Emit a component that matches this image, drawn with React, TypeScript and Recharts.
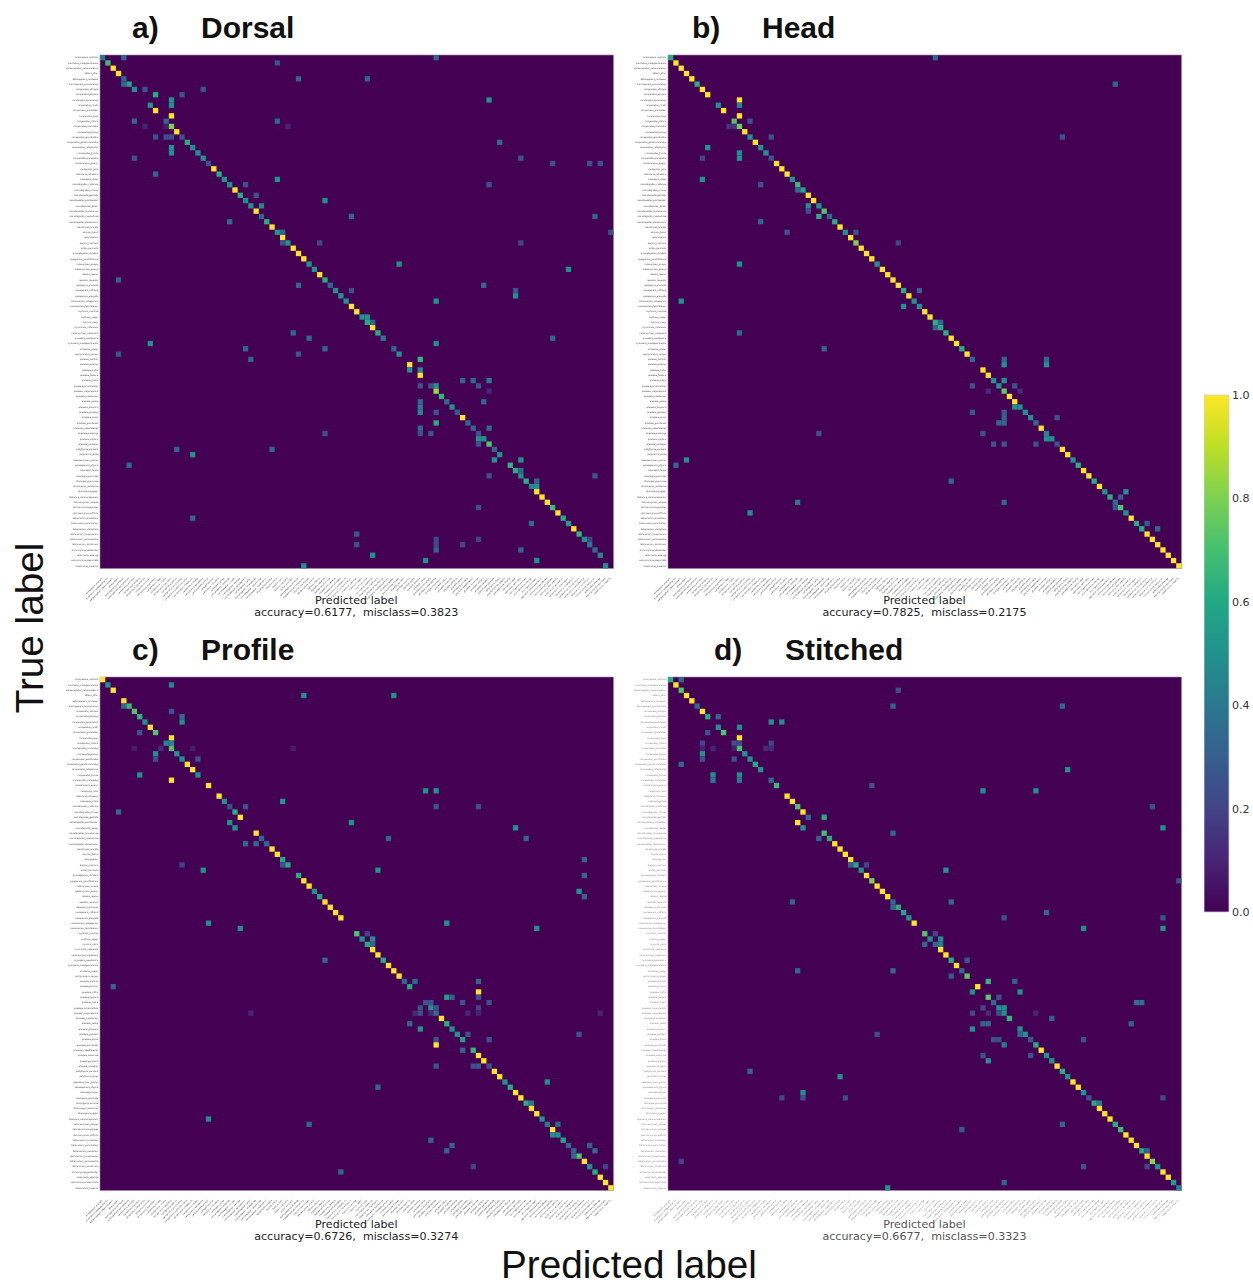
import { ScatterChart, Scatter, XAxis, YAxis, ReferenceArea, BarChart, Bar } from "recharts";

type Triple = [number, number, number];

const SPECIES = [
    "amblyopone_australis", "anochetus_madagascarensis", "aphaenogaster_swammerdami", "azteca_alfari",
    "bothroponera_cambouei", "brachyponera_sennaarensis", "camponotus_atriceps", "camponotus_aurosus",
    "camponotus_bonariensis", "camponotus_christi", "camponotus_grandidieri", "camponotus_hova",
    "camponotus_irritans", "camponotus_maculatus", "camponotus_planus", "camponotus_punctulatus",
    "camponotus_quadrimaculatus", "camponotus_rufoglaucus", "camponotus_thraso", "camponotus_variegatus",
    "cardiocondyla_emeryi", "cerapachys_biroi", "cataulacus_intrudens", "colobopsis_vitrea",
    "crematogaster_castanea", "crematogaster_crinosa", "crematogaster_dentata", "crematogaster_gerstaeckeri",
    "crematogaster_kelleri", "crematogaster_ranavalonae", "crematogaster_rasoherinae", "crematogaster_stadelmanni",
    "discothyrea_oculata", "dorylus_fulvus", "dorylus_kohli", "dorylus_nigricans",
    "eciton_burchellii", "gnamptogenys_striatula", "hypoponera_punctatissima", "iridomyrmex_anceps",
    "labidomyrmex_emeryi", "labidus_coecus", "lepisiota_capensis", "leptogenys_diminuta",
    "mesoponera_caffraria", "mesoponera_elongata", "monomorium_subopacum", "monomorium_termitobium",
    "mystrium_camillae", "mystrium_rogeri", "myrmica_rubra", "myrmicaria_natalensis",
    "neivamyrmex_nigrescens", "nylanderia_bourbonica", "nylanderia_madagascarensis", "ochetellus_glaber",
    "pachycondyla_harpax", "pheidole_aurivillii", "pheidole_bicornis", "pheidole_caffra",
    "pheidole_fervens", "pheidole_indica", "pheidole_lucioccipitalis", "pheidole_megacephala",
    "pheidole_mooreorum", "pheidole_nodus", "pheidole_oceanica", "pheidole_pallidula",
    "pheidole_parva", "pheidole_punctulata", "pheidole_radoszkowskii", "pheidole_susannae",
    "pheidole_vigilans", "pheidole_variabilis", "platythyrea_parallela", "polyrhachis_dives",
    "pseudomyrmex_gracilis", "pseudoponera_stigma", "solenopsis_fugax", "solenopsis_geminata",
    "strumigenys_emmae", "strumigenys_louisianae", "strumigenys_rogeri", "tapinoma_melanocephalum",
    "technomyrmex_albipes", "technomyrmex_pallipes", "technomyrmex_difficilis", "tetramorium_aculeatum",
    "tetramorium_bicarinatum", "tetramorium_caespitum", "tetramorium_lanuginosum", "tetramorium_sericeiventre",
    "tetramorium_simillimum", "trichomyrmex_destructor", "vollenhovia_oblonga", "wasmannia_auropunctata",
    "zasphinctus_imbecilis",
];

const TICKS = SPECIES.map((_, i) => i);
const COLORBAR_TICKS = [0, 0.2, 0.4, 0.6, 0.8, 1];

const VIRIDIS = [
    "#440154", "#482475", "#414487", "#355f8d", "#2a788e", "#21918c",
    "#22a884", "#44bf70", "#7ad151", "#bddf26", "#fde725",
];

// [row, col, value]
const DORSAL: Triple[] = [
    [0,0,.4],[0,4,.33],[0,63,.33],[1,1,.68],[1,33,.25],[2,2,1],[3,3,1],[4,4,.33],[4,37,.33],[4,50,.33],
    [5,4,.33],[5,5,.6],[6,6,.5],[6,8,.25],[6,19,.25],[7,10,.62],[7,15,.25],[8,13,.5],[8,73,.5],[9,9,.5],[9,13,.5],
    [10,10,1],[11,13,1],[12,6,.33],[12,12,.33],[12,33,.33],[13,8,.1],[13,12,.08],[13,13,.8],[13,35,.1],[14,14,1],
    [15,10,.25],[15,12,.25],[15,13,.25],[15,15,.25],[16,16,.62],[16,75,.33],[17,13,.5],[17,17,.5],[18,13,.5],[18,18,.5],
    [19,6,.25],[19,19,.5],[19,79,.25],[20,20,.25],[20,85,.25],[20,92,.25],[20,94,.25],[21,21,1],[22,10,.33],[22,22,.62],
    [23,23,.5],[23,33,.5],[24,24,.5],[24,27,.25],[24,73,.25],[25,25,1],[26,26,.62],[26,29,.25],[27,27,.5],[27,42,.5],
    [28,28,.5],[28,30,.45],[29,29,1],[30,30,.33],[30,47,.33],[30,93,.33],[31,24,.33],[31,31,.62],[32,32,1],
    [33,33,.5],[33,34,.33],[33,96,.25],[34,34,1],[35,34,.25],[35,35,.5],[35,41,.22],[35,79,.22],[36,36,1],[37,37,1],[38,38,1],
    [39,39,.5],[39,56,.5],[40,40,.5],[40,88,.5],[41,41,1],[42,3,.33],[42,42,.62],[43,37,.33],[43,43,.33],[43,72,.33],
    [44,44,.5],[44,47,.25],[44,78,.25],[45,45,.5],[45,78,.5],[46,46,.5],[46,63,.5],[47,47,1],[48,48,1],[49,49,.5],[49,50,.5],
    [50,50,.62],[50,51,.33],[51,51,1],[52,36,.33],[52,52,.62],[53,39,.33],[53,53,.4],[53,85,.33],[54,9,.5],[54,63,.5],
    [55,27,.33],[55,42,.33],[55,55,.33],[56,3,.28],[56,37,.28],[56,56,.5],[57,28,.33],[57,60,.65],[58,58,1],[59,58,.5],[59,60,.45],
    [60,60,1],[61,68,.33],[61,70,.33],[61,73,.4],[62,60,.25],[62,62,.25],[62,63,.5],[62,71,.25],[63,63,.85],[63,73,.1],[64,64,.65],
    [65,60,.33],[65,65,.33],[65,72,.33],[66,60,.4],[66,66,.5],[67,60,.45],[67,63,.25],[67,67,.28],[68,68,1],[69,63,.62],[69,69,.33],
    [70,60,.33],[70,70,.33],[70,73,.33],[71,42,.25],[71,60,.25],[71,62,.25],[71,71,.25],[72,71,.5],[72,72,.5],[73,71,.25],[73,73,.72],
    [74,14,.33],[74,32,.33],[74,74,.33],[75,17,.5],[75,75,.5],[76,74,.5],[76,79,.5],[77,5,.33],[77,77,.65],[78,78,.62],[78,79,.33],
    [79,73,.25],[79,79,.5],[79,93,.25],[80,80,.62],[80,82,.33],[81,81,.45],[81,82,.5],[82,82,1],[83,83,1],[84,84,1],
    [85,71,.25],[85,85,.68],[86,86,1],[87,17,.33],[87,87,.62],[88,81,.33],[88,88,.55],[89,89,1],[90,48,.28],[90,90,.65],
    [91,63,.2],[91,71,.2],[91,91,.5],[91,92,.2],[92,48,.25],[92,63,.22],[92,68,.22],[92,92,.4],[93,63,.33],[93,79,.33],[93,93,.33],
    [94,51,.5],[94,94,.45],[95,61,.5],[95,82,.5],[96,38,.5],[96,95,.5],
];

const HEAD: Triple[] = [
    [0,0,.62],[0,50,.33],[1,1,1],[2,2,1],[3,3,1],[4,4,1],[5,5,.62],[5,84,.33],[6,6,1],[7,7,1],[8,13,1],[9,9,.5],[9,13,.45],
    [10,10,1],[11,13,1],[12,12,.72],[12,15,.25],[13,11,.15],[13,12,.15],[13,13,.78],[14,14,1],[15,15,.5],[15,19,.25],[15,74,.25],
    [16,16,1],[17,7,.5],[17,17,.5],[18,13,.5],[18,18,.5],[19,6,.22],[19,13,.5],[19,19,.25],[20,20,1],[21,21,1],[22,22,1],
    [23,6,.5],[23,23,.5],[24,17,.25],[24,24,.68],[25,24,.33],[25,25,.6],[26,26,1],[27,27,1],[28,26,.5],[28,28,.5],[29,26,.25],[29,29,.72],
    [30,28,.62],[30,30,.33],[31,17,.33],[31,31,.62],[32,32,1],[33,22,.25],[33,33,.5],[33,35,.25],[34,34,1],[35,35,.8],[35,43,.2],
    [36,36,1],[37,37,1],[38,38,1],[39,13,.5],[39,39,.5],[40,40,1],[41,41,1],[42,42,1],[43,43,1],[44,44,.62],[44,47,.3],[45,45,1],
    [46,2,.5],[46,46,.5],[47,44,.5],[47,47,.5],[48,48,1],[49,49,1],[50,50,.62],[50,51,.33],[51,50,.33],[51,51,.62],[52,13,.33],[52,52,.62],
    [53,53,1],[54,54,1],[55,29,.33],[55,55,.62],[56,56,1],[57,57,.33],[57,63,.33],[57,71,.33],[58,63,.5],[58,71,.5],[59,59,1],[60,60,1],
    [61,61,.5],[61,63,.5],[62,57,.25],[62,62,.5],[62,65,.25],[63,60,.12],[63,63,.75],[63,66,.12],[64,64,1],[65,65,1],[66,65,.5],[66,66,.5],
    [67,57,.28],[67,63,.28],[67,67,.5],[68,63,.3],[68,68,.5],[68,73,.25],[69,62,.33],[69,63,.33],[69,69,.33],[70,70,1],
    [71,28,.25],[71,59,.25],[71,71,.45],[72,71,.5],[72,72,.5],[73,61,.25],[73,63,.25],[73,69,.25],[73,73,.25],[74,74,1],[75,75,1],
    [76,3,.5],[76,76,.5],[77,1,.33],[77,77,.62],[78,78,1],[79,79,1],[80,53,.33],[80,80,.62],[81,81,1],[82,82,.5],[82,86,.5],
    [83,83,.62],[83,85,.3],[84,24,.4],[84,63,.33],[84,84,.33],[85,84,.25],[85,85,.72],[86,15,.5],[86,86,.5],[87,87,1],
    [88,88,.62],[88,90,.28],[89,89,.62],[89,92,.33],[90,90,1],[91,91,1],[92,92,1],[93,93,1],[94,94,1],[95,95,1],[96,96,1],
];

const PROFILE: Triple[] = [
    [0,0,1],[1,1,.5],[1,13,.45],[2,2,1],[3,38,.5],[3,55,.5],[4,4,1],[5,4,.33],[5,5,.67],[6,6,.72],[6,13,.25],[7,7,.65],[7,15,.33],
    [8,8,.5],[8,15,.5],[9,9,1],[10,7,.25],[10,10,.72],[11,13,1],[12,12,.45],[12,13,.45],[13,6,.08],[13,11,.12],[13,13,.72],[13,17,.08],[13,36,.08],
    [14,10,.5],[14,14,.5],[15,10,.25],[15,15,.5],[15,18,.25],[16,16,1],[17,17,1],[18,7,.5],[18,18,.5],[19,13,1],[20,20,1],
    [21,61,.5],[21,63,.5],[22,22,1],[23,23,.5],[23,34,.5],[24,24,.25],[24,27,.25],[24,63,.25],[24,71,.25],[25,3,.33],[25,25,.62],[26,26,1],
    [27,24,.5],[27,47,.5],[28,25,.5],[28,78,.5],[29,29,1],[30,30,.33],[30,54,.33],[30,80,.33],[31,27,.33],[31,29,.33],[31,31,.33],
    [32,32,1],[33,33,1],[34,34,.6],[34,91,.33],[35,15,.2],[35,34,.25],[35,35,.6],[36,19,.5],[36,52,.5],[37,37,.62],[37,91,.33],
    [38,38,1],[39,39,1],[40,40,.5],[40,90,.5],[41,41,.6],[41,91,.33],[42,42,1],[43,43,1],[44,44,1],[45,45,1],[46,20,.5],[46,65,.5],
    [47,26,.5],[47,82,.5],[48,48,.72],[48,50,.2],[49,49,.5],[49,51,.5],[50,50,.6],[50,51,.33],[51,51,1],[52,52,1],[53,42,.33],[53,53,.62],
    [54,54,1],[55,55,1],[56,56,1],[57,57,.33],[57,59,.33],[57,71,.33],[58,2,.33],[58,58,.6],[59,71,1],[60,65,.55],[60,66,.3],[60,71,.25],
    [61,61,.25],[61,62,.25],[61,68,.25],[61,73,.25],[62,60,.25],[62,62,.5],[62,63,.25],[62,71,.2],
    [63,28,.1],[63,59,.12],[63,60,.25],[63,62,.12],[63,63,.35],[63,69,.1],[63,71,.1],[63,94,.1],[64,64,1],[65,58,.33],[65,65,.62],
    [66,60,.5],[66,66,.5],[67,67,.5],[67,69,.25],[67,90,.25],[68,63,.25],[68,68,.55],[68,73,.25],[69,63,1],[70,68,.33],[70,70,.65],
    [71,71,1],[72,72,1],[73,63,.25],[73,70,.25],[73,71,.25],[73,73,.25],[74,74,1],[75,75,1],[76,76,.5],[76,84,.5],[77,52,.33],[77,77,.62],
    [78,78,1],[79,79,1],[80,80,.62],[80,81,.4],[81,81,1],[82,82,1],[83,20,.5],[83,83,.5],[84,39,.33],[84,84,.4],[84,86,.33],[85,85,1],
    [86,85,.5],[86,86,.5],[87,62,.33],[87,87,.6],[88,66,.3],[88,88,.33],[88,92,.3],[89,65,.33],[89,89,.33],[89,93,.33],[90,89,.33],[90,90,.72],
    [91,91,1],[92,70,.2],[92,92,.5],[92,95,.2],[93,45,.33],[93,93,.62],[94,94,1],[95,95,1],[96,96,1],
];

const STITCHED: Triple[] = [
    [0,0,.62],[0,2,.33],[1,1,1],[2,2,.72],[2,43,.25],[3,3,1],[4,4,1],[5,5,.33],[5,42,.33],[5,74,.33],[6,6,1],[7,7,.62],[7,9,.3],
    [8,19,.5],[8,21,.5],[9,9,.5],[9,13,.5],[10,7,.25],[10,10,.72],[11,13,1],[12,6,.22],[12,12,.25],[12,13,.22],[12,19,.22],
    [13,6,.08],[13,8,.1],[13,12,.08],[13,13,.7],[13,18,.12],[13,19,.12],[14,6,.5],[14,14,.5],[15,6,.25],[15,12,.25],[15,15,.5],
    [16,2,.33],[16,16,.6],[17,17,.5],[17,75,.5],[18,8,.5],[18,13,.5],[19,8,.4],[19,13,.4],[19,19,.33],[20,20,.68],[20,38,.25],
    [21,59,.5],[21,69,.5],[22,22,1],[23,23,1],[24,24,.72],[24,91,.25],[25,25,1],[26,26,.33],[26,29,.62],[27,24,1],[28,25,.5],[28,93,.5],
    [29,29,.7],[29,42,.33],[30,28,.33],[30,30,.62],[31,31,1],[32,32,1],[33,33,1],[34,34,1],[35,34,.3],[35,35,.6],[35,37,.2],
    [36,36,.5],[36,52,.5],[37,37,1],[38,38,.8],[38,96,.25],[39,39,1],[40,40,1],[41,41,1],[42,23,.33],[42,42,.33],[42,53,.33],
    [43,42,.33],[43,43,.62],[44,44,.6],[44,71,.33],[45,45,.5],[45,63,.25],[45,93,.25],[46,46,1],[47,78,.5],[47,93,.5],
    [48,48,.72],[48,50,.2],[49,49,.5],[49,51,.5],[50,48,.33],[50,50,.33],[50,51,.42],[51,51,1],[52,52,1],[53,53,.62],[53,56,.28],[54,54,1],
    [55,24,.33],[55,42,.33],[55,55,.33],[56,53,.28],[56,56,.75],[57,60,.65],[57,65,.3],[58,58,1],[59,57,.5],[59,66,.5],[60,60,.75],[60,62,.25],
    [61,61,.33],[61,88,.35],[61,89,.35],[62,59,.2],[62,62,.5],[62,63,.5],[63,57,.22],[63,60,.12],[63,62,.25],[63,63,.5],[63,69,.1],
    [64,64,.65],[64,72,.3],[65,59,.33],[65,60,.33],[65,87,.3],[66,57,.5],[66,66,.5],[67,39,.25],[67,66,.33],[67,67,.5],
    [68,61,.25],[68,62,.25],[68,68,.28],[68,78,.25],[69,63,.4],[69,69,.62],[70,70,1],[71,59,.25],[71,68,.25],[71,71,.5],[72,60,.5],[72,72,.5],
    [73,73,1],[74,15,.33],[74,74,.62],[75,32,.5],[75,75,.5],[76,76,1],[77,77,1],[78,25,.5],[78,78,.5],[79,21,.22],[79,25,.25],[79,33,.22],[79,79,.25],[79,93,.22],
    [80,80,.62],[80,81,.4],[81,81,1],[82,82,1],[83,83,1],[84,74,.33],[84,84,.62],[85,55,.28],[85,85,.68],[86,86,1],[87,87,1],[88,88,1],
    [89,89,.6],[89,90,.33],[90,90,1],[91,2,.2],[91,91,.82],[92,78,.25],[92,90,.22],[92,92,.5],[93,93,1],[94,94,1],[95,63,.33],[95,95,.55],[96,41,.5],[96,96,.45],
];

const PLOT = 513.5;
const CELL = PLOT / SPECIES.length;
const GUTTER = 50;
const XAXIS_HEIGHT = 50;

function hexToRgb(hex: string) {
    return [1, 3, 5].map((i) => parseInt(hex.slice(i, i + 2), 16));
}

function viridis(v: number) {
    const pos = Math.min(Math.max(v, 0), 1) * (VIRIDIS.length - 1);
    const lo = Math.floor(pos);
    const hi = Math.min(lo + 1, VIRIDIS.length - 1);
    const a = hexToRgb(VIRIDIS[lo]);
    const b = hexToRgb(VIRIDIS[hi]);
    const mix = a.map((c, i) => Math.round(c + (b[i] - c) * (pos - lo)));
    return `rgb(${mix.join(",")})`;
}

function CellShape(props: any) {
    const { cx, cy, payload } = props;
    return <rect x={cx - CELL / 2} y={cy - CELL / 2} width={CELL} height={CELL} fill={viridis(payload.value)} />;
}

function XTick(props: any) {
    const { x, y, payload, fill } = props;
    return (
        <text
            x={x}
            y={y + 2}
            fontSize={2.1}
            fontFamily="DejaVu Sans"
            fill={fill}
            textAnchor="end"
            transform={`rotate(-45 ${x} ${y + 2})`}
        >
            {SPECIES[payload.value]}
        </text>
    );
}

type PanelProps = {
    left: number;
    top: number;
    letter: string;
    letterX: number;
    name: string;
    nameX: number;
    accuracy: string;
    misclass: string;
    triples: Triple[];
    textColor: string;
    captionColor: string;
    captionShift: number;
};

function Panel({ left, top, letter, letterX, name, nameX, accuracy, misclass, triples, textColor, captionColor, captionShift }: PanelProps) {
    const cells = triples.map(([row, col, value]) => ({ row, col, value }));
    const center = left + PLOT / 2;
    const titleStyle: React.CSSProperties = {
        position: "absolute",
        top: top - 45,
        fontFamily: "Liberation Sans",
        fontWeight: "bold",
        fontSize: 30,
        lineHeight: "36px",
        color: "#111",
    };
    const captionStyle: React.CSSProperties = {
        position: "absolute",
        left: center - 150,
        width: 300,
        textAlign: "center",
        fontFamily: "DejaVu Sans",
        fontSize: 11.1,
        lineHeight: "14px",
        whiteSpace: "pre",
        color: captionColor,
    };
    return (
        <>
            <div style={{ ...titleStyle, left: letterX }}>{letter}</div>
            <div style={{ ...titleStyle, left: nameX }}>{name}</div>
            <div style={{ position: "absolute", left: left - GUTTER, top: top - 5, filter: "blur(0.45px)" }}>
                <ScatterChart
                    width={GUTTER + PLOT + 4}
                    height={5 + PLOT + XAXIS_HEIGHT}
                    margin={{ top: 5, right: 4, bottom: 0, left: 0 }}
                >
                    <XAxis
                        type="number"
                        dataKey="col"
                        domain={[-0.5, SPECIES.length - 0.5]}
                        ticks={TICKS}
                        interval={0}
                        height={XAXIS_HEIGHT}
                        axisLine={false}
                        tickLine={false}
                        tick={<XTick fill={textColor} />}
                    />
                    <YAxis
                        type="number"
                        dataKey="row"
                        reversed
                        domain={[-0.5, SPECIES.length - 0.5]}
                        ticks={TICKS}
                        interval={0}
                        width={GUTTER}
                        axisLine={false}
                        tickLine={false}
                        tickSize={0}
                        tickMargin={2}
                        tickFormatter={(i: number) => SPECIES[i]}
                        tick={{ fontSize: 2.1, fontFamily: "DejaVu Sans", fill: textColor }}
                    />
                    <ReferenceArea
                        x1={-0.5}
                        x2={SPECIES.length - 0.5}
                        y1={-0.5}
                        y2={SPECIES.length - 0.5}
                        fill="#440154"
                        fillOpacity={1}
                        stroke="#9a8aa0"
                        strokeWidth={0.6}
                    />
                    <Scatter data={cells} shape={CellShape} isAnimationActive={false} />
                </ScatterChart>
            </div>
            <div style={{ ...captionStyle, top: top + 539 + captionShift }}>Predicted label</div>
            <div style={{ ...captionStyle, top: top + 551 + captionShift }}>{`accuracy=${accuracy},  misclass=${misclass}`}</div>
        </>
    );
}

function Colorbar() {
    return (
        <div style={{ position: "absolute", left: 1204, top: 389.5 }}>
            <BarChart
                width={49}
                height={527}
                data={[{ name: "scale", top: 1 }]}
                margin={{ top: 5, right: 0, bottom: 5, left: 0 }}
                barCategoryGap={0}
            >
                <defs>
                    <linearGradient id="viridis-scale" x1="0" y1="1" x2="0" y2="0">
                        {VIRIDIS.map((c, i) => (
                            <stop key={c} offset={i / (VIRIDIS.length - 1)} stopColor={c} />
                        ))}
                    </linearGradient>
                </defs>
                <XAxis dataKey="name" hide />
                <YAxis
                    orientation="right"
                    domain={[0, 1]}
                    ticks={COLORBAR_TICKS}
                    interval={0}
                    width={24}
                    axisLine={false}
                    tickLine={false}
                    tickSize={0}
                    tickMargin={3}
                    tickFormatter={(v: number) => v.toFixed(1)}
                    tick={{ fontSize: 11.1, fontFamily: "DejaVu Sans", fill: "#333", textAnchor: "start" }}
                />
                <Bar dataKey="top" fill="url(#viridis-scale)" stroke="#cfcfcf" strokeWidth={0.8} isAnimationActive={false} />
            </BarChart>
        </div>
    );
}

export default function App() {
    const bigLabel: React.CSSProperties = {
        position: "absolute",
        fontFamily: "Liberation Sans",
        fontSize: 38.7,
        lineHeight: "44px",
        whiteSpace: "pre",
        color: "#111",
    };
    return (
        <div style={{ position: "absolute", left: 0, top: 0, width: 1253, height: 1282, background: "#fff", overflow: "hidden" }}>
            <Panel left={99.5} top={55} letter="a)" letterX={132} name="Dorsal" nameX={201} accuracy="0.6177" misclass="0.3823" triples={DORSAL} textColor="#333" captionColor="#222" captionShift={0} />
            <Panel left={667.7} top={55} letter="b)" letterX={692} name="Head" nameX={762} accuracy="0.7825" misclass="0.2175" triples={HEAD} textColor="#333" captionColor="#222" captionShift={0} />
            <Panel left={99.5} top={677.4} letter="c)" letterX={132} name="Profile" nameX={201} accuracy="0.6726" misclass="0.3274" triples={PROFILE} textColor="#333" captionColor="#222" captionShift={1.2} />
            <Panel left={667.7} top={677.4} letter="d)" letterX={714} name="Stitched" nameX={785} accuracy="0.6677" misclass="0.3323" triples={STITCHED} textColor="#777" captionColor="#555" captionShift={1.2} />
            <Colorbar />
            <div style={{ ...bigLabel, left: 501, top: 1243 }}>Predicted label</div>
            <div
                style={{
                    ...bigLabel,
                    left: 30,
                    top: 628,
                    transform: "translate(-50%, -50%) rotate(-90deg)",
                }}
            >
                True label
            </div>
        </div>
    );
}
